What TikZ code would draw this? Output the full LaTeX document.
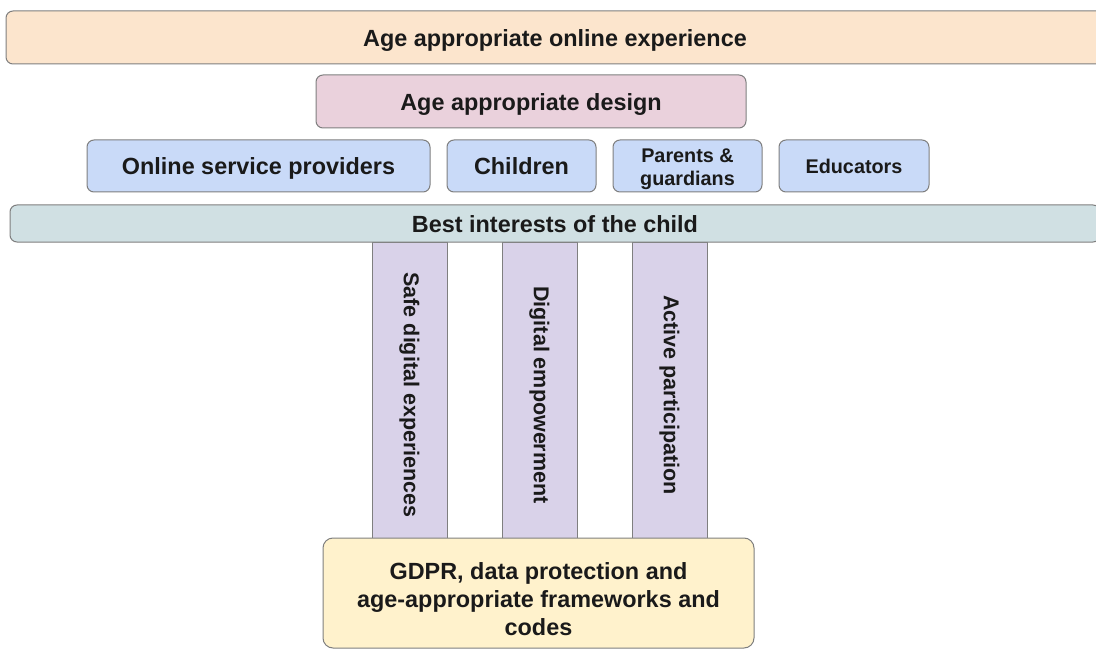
\documentclass[tikz,border=0pt]{standalone}
\usepackage{fontspec}
\setmainfont{Liberation Sans}
\usetikzlibrary{positioning}
\definecolor{peach}{HTML}{FCE5CD}
\definecolor{rose}{HTML}{EAD1DC}
\definecolor{cornflower}{HTML}{C9DAF8}
\definecolor{paleteal}{HTML}{D0E0E3}
\definecolor{lavender}{HTML}{D9D2E9}
\definecolor{cream}{HTML}{FFF2CC}
\definecolor{edge}{HTML}{7F7F7F}
\definecolor{ink}{HTML}{1A1A1A}
\tikzstyle{bar} = [rectangle, rounded corners=7pt, draw=edge, line width=1pt, text=ink, inner sep=0pt, outer sep=0pt, text height=17.5pt, text depth=0pt, font=\bfseries\fontsize{23.4}{28}\selectfont]
\tikzstyle{actor} = [bar, fill=cornflower, minimum height=52pt, minimum width=149pt, align=center]
\tikzstyle{pillar} = [rectangle, draw=edge, line width=1pt, fill=lavender, text=ink, rotate=-90, minimum width=306pt, minimum height=75pt, inner sep=0pt, font=\bfseries\fontsize{21.5}{26}\selectfont]

\begin{document}
\begin{tikzpicture}[x=1pt,y=-1pt]
    \useasboundingbox (0,0) rectangle (1096,650);

    \node [bar, fill=peach, minimum width=1098pt, minimum height=53pt] (experience) at (555,37.5) {Age appropriate online experience};
    \node [bar, fill=rose, minimum width=430pt, minimum height=53pt] (design) at (531,101.5) {Age appropriate design};

    \node [actor, minimum width=343pt] (providers) at (258.5,166) {Online service providers};
    \node [actor, right=17pt of providers] (children) {Children};
    \node [actor, right=17pt of children, text height=39.3pt, font=\bfseries\fontsize{19.8}{23}\selectfont] (parents) {Parents \&\\guardians};
    \node [actor, right=17pt of parents, minimum width=150pt, text height=15pt, font=\bfseries\fontsize{19.8}{23}\selectfont] (educators) {Educators};

    % the pillars run on under the GDPR box
    \node [pillar] (safe) at (409.5,395) {Safe digital experiences};
    \node [pillar] (empower) at (539.5,395) {Digital empowerment};
    \node [pillar] (participation) at (669.5,395) {Active participation};

    \node [bar, fill=paleteal, minimum width=1090pt, minimum height=37pt] (interests) at (555,223.5) {Best interests of the child};
    \node [bar, fill=cream, minimum width=431pt, minimum height=110pt, align=center, rounded corners=10pt, text height=85.7pt, font=\bfseries\fontsize{23.4}{28}\selectfont] (gdpr) at (538.5,593) {GDPR, data protection and\\age-appropriate frameworks and\\codes};
\end{tikzpicture}
\end{document}
